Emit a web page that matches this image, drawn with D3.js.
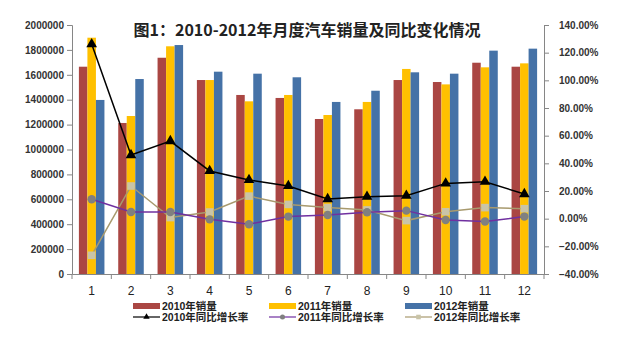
<!DOCTYPE html>
<html>
<head>
<meta charset="utf-8">
<script src="https://cdn.jsdelivr.net/npm/d3@7"></script>
<style>
body { margin: 0; background: #fff; }
text { font-family: "Liberation Sans", "Noto Sans CJK SC", sans-serif; }
</style>
</head>
<body>
<div id="chart"></div>
<script>
//monthly car sales 2010-2012, bars + yoy growth lines
var months = ['1', '2', '3', '4', '5', '6', '7', '8', '9', '10', '11', '12'];

var sales2010 = [1665000, 1213000, 1737000, 1558000, 1438000, 1414000, 1245000, 1323000, 1558000, 1542000, 1697000, 1665000];
var sales2011 = [1898000, 1269000, 1829000, 1558000, 1387000, 1438000, 1277000, 1382000, 1647000, 1523000, 1660000, 1692000];
var sales2012 = [1398000, 1566000, 1839000, 1625000, 1609000, 1580000, 1382000, 1472000, 1620000, 1609000, 1794000, 1810000];

var growth2010 = [1.262, 0.46, 0.561, 0.345, 0.28, 0.236, 0.142, 0.159, 0.166, 0.255, 0.267, 0.178];
var growth2011 = [0.14, 0.048, 0.048, -0.005, -0.04, 0.015, 0.026, 0.046, 0.058, -0.01, -0.021, 0.015];
var growth2012 = [-0.265, 0.236, 0.008, 0.048, 0.163, 0.103, 0.08, 0.063, -0.014, 0.05, 0.08, 0.072];

var leftTicks = [0, 200000, 400000, 600000, 800000, 1000000, 1200000, 1400000, 1600000, 1800000, 2000000];
var rightTicks = [-0.4, -0.2, 0, 0.2, 0.4, 0.6, 0.8, 1.0, 1.2, 1.4];

var barSeries = [
    { name: '2010年销量', values: sales2010, color: '#AA4643' },
    { name: '2011年销量', values: sales2011, color: '#FFC000' },
    { name: '2012年销量', values: sales2012, color: '#4572A7' }
];

var lineSeries = [
    { name: '2010年同比增长率', values: growth2010, color: '#000000', marker: 'triangle', markerColor: '#000000' },
    { name: '2011年同比增长率', values: growth2011, color: '#7030A0', marker: 'circle', markerColor: '#808080' },
    { name: '2012年同比增长率', values: growth2012, color: '#A89A6E', marker: 'square', markerColor: '#C9C4A8' }
];

var margin = {
    top: 25,
    left: 72,
    bottom: 78,
    right: 79
}

var width = 623, height = 352;

var svg = d3.select('#chart').append('svg')
    .attr('width', width)
    .attr('height', height);

var x = d3.scaleBand()
    .domain(months)
    .range([margin.left, width - margin.right]);

var x1 = d3.scaleBand()
    .domain(barSeries.map(function(d) { return d.name }))
    .range([0, x.bandwidth()])
    .paddingOuter(0.81);

var yLeft = d3.scaleLinear()
    .domain([0, 2000000])
    .range([height - margin.bottom, margin.top]);

var yRight = d3.scaleLinear()
    .domain([-0.4, 1.4])
    .range([height - margin.bottom, margin.top]);

// bars
barSeries.forEach(function(s) {
    svg.append('g').selectAll('rect')
        .data(s.values)
        .enter().append('rect')
        .attr('x', function(d, i) { return x(months[i]) + x1(s.name) })
        .attr('y', function(d) { return yLeft(d) })
        .attr('width', x1.bandwidth())
        .attr('height', function(d) { return yLeft(0) - yLeft(d) })
        .attr('fill', s.color);
});

// axes
var axisColor = '#868686';

var gLeft = svg.append('g')
    .attr('transform', 'translate(' + margin.left + ',0)')
    .call(d3.axisLeft(yLeft).tickValues(leftTicks).tickFormat(d3.format('d')).tickSize(5).tickPadding(3));

var gRight = svg.append('g')
    .attr('transform', 'translate(' + (width - margin.right) + ',0)')
    .call(d3.axisRight(yRight).tickValues(rightTicks).tickFormat(d3.format('.2%')).tickSize(5).tickPadding(10));

[gLeft, gRight].forEach(function(g) {
    g.select('.domain').attr('stroke', axisColor);
    g.selectAll('.tick line').attr('stroke', axisColor);
    g.selectAll('.tick text')
        .attr('fill', '#333')
        .style('font-size', '10px')
        .style('font-weight', 'bold');
});

var gBottom = svg.append('g')
    .attr('transform', 'translate(0,' + yLeft(0) + ')')
    .call(d3.axisBottom(x).tickSize(0).tickPadding(12));
gBottom.select('.domain').attr('stroke', axisColor);
gBottom.selectAll('.tick text')
    .attr('fill', '#222')
    .style('font-size', '12px');

// tick marks between categories
svg.append('g').selectAll('line')
    .data(months.concat(['end']))
    .enter().append('line')
    .attr('x1', function(d, i) { return margin.left + i * x.step() })
    .attr('x2', function(d, i) { return margin.left + i * x.step() })
    .attr('y1', yLeft(0))
    .attr('y2', yLeft(0) + 5)
    .attr('stroke', axisColor);

// lines
function drawMarker(g, type, color, cx, cy) {
    if (type === 'triangle') {
        g.append('path')
            .attr('d', d3.symbol().type(d3.symbolTriangle).size(50)())
            .attr('transform', 'translate(' + cx + ',' + cy + ')')
            .attr('fill', color);
    } else if (type === 'circle') {
        g.append('circle')
            .attr('cx', cx).attr('cy', cy).attr('r', 4.2)
            .attr('fill', color);
    } else {
        g.append('rect')
            .attr('x', cx - 3.8).attr('y', cy - 3.8)
            .attr('width', 7.6).attr('height', 7.6)
            .attr('fill', color);
    }
}

var line = d3.line()
    .x(function(d, i) { return x(months[i]) + x.bandwidth() / 2 })
    .y(function(d) { return yRight(d) });

lineSeries.slice().reverse().forEach(function(s) {
    var g = svg.append('g');
    g.append('path')
        .datum(s.values)
        .attr('d', line)
        .attr('fill', 'none')
        .attr('stroke', s.color)
        .attr('stroke-width', 1.5);
    s.values.forEach(function(d, i) {
        drawMarker(g, s.marker, s.markerColor, x(months[i]) + x.bandwidth() / 2, yRight(d));
    });
});

// title
svg.append('text')
    .attr('x', 307)
    .attr('y', 36)
    .attr('text-anchor', 'middle')
    .style('font-family', '"Noto Sans CJK SC", sans-serif')
    .style('font-size', '16px')
    .style('font-weight', 'bold')
    .attr('fill', '#222')
    .text('图1：2010-2012年月度汽车销量及同比变化情况');

// legend
var legendX = [133, 269, 405];
var legendY = [306, 317];

barSeries.forEach(function(s, i) {
    svg.append('rect')
        .attr('x', legendX[i]).attr('y', legendY[0] - 3)
        .attr('width', 27).attr('height', 6)
        .attr('fill', s.color);
    svg.append('text')
        .attr('x', legendX[i] + 29).attr('y', legendY[0] + 4)
        .style('font-size', '10.5px').style('font-weight', 'bold')
        .attr('fill', '#222')
        .text(s.name);
});

lineSeries.forEach(function(s, i) {
    var g = svg.append('g');
    g.append('line')
        .attr('x1', legendX[i]).attr('x2', legendX[i] + 27)
        .attr('y1', legendY[1]).attr('y2', legendY[1])
        .attr('stroke', s.color).attr('stroke-width', 1.2);
    var gm = g.append('g');
    drawMarker(gm, s.marker, s.markerColor, legendX[i] + 13.5, legendY[1]);
    gm.attr('transform', 'translate(' + (legendX[i] + 13.5) + ',' + legendY[1] + ') scale(0.6) translate(' + (-(legendX[i] + 13.5)) + ',' + (-legendY[1]) + ')');
    g.append('text')
        .attr('x', legendX[i] + 29).attr('y', legendY[1] + 4)
        .style('font-size', '10.5px').style('font-weight', 'bold')
        .attr('fill', '#222')
        .text(s.name);
});
</script>
</body>
</html>
